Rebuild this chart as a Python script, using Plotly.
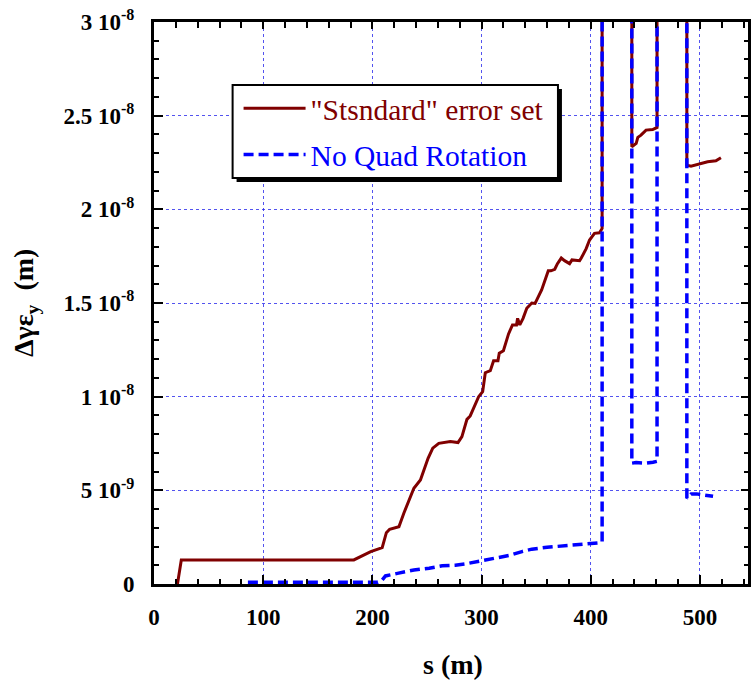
import plotly.graph_objects as go

# ---- data ----
s_std = [21.5, 25, 183, 198.5, 209, 212.8, 215.8, 221, 224.3, 228.8, 233.4, 238, 244, 247.5,
         251, 255.3, 260.8, 271.4, 278.4, 282, 286.6, 289.6, 297.3, 301, 303.4, 308, 311, 315,
         316.2, 320, 324.7, 328.3, 332, 333, 335, 338, 341.4, 346, 349, 355, 361.1, 363.5, 367,
         369.5, 373, 376, 380.6, 382.8, 389.8, 391.3, 395.8, 398.9, 403.4, 408, 410.4,
         410.4, 437.6, 437.6, 441.6, 443.1, 446, 450.6, 456.7, 460.7,
         460.7, 488, 488, 491.8, 500.9, 507, 514.6, 519.2]
v_std = [0, 1.286e-9, 1.286e-9, 1.73e-9, 1.94e-9, 2.74e-9, 2.92e-9, 3.03e-9, 3.06e-9, 3.78e-9,
         4.4e-9, 5.11e-9, 5.55e-9, 6.1e-9, 6.71e-9, 7.25e-9, 7.51e-9, 7.6e-9, 7.55e-9, 7.87e-9,
         8.79e-9, 8.97e-9, 1.0e-8, 1.027e-8, 1.128e-8, 1.139e-8, 1.192e-8, 1.192e-8, 1.232e-8,
         1.245e-8, 1.335e-8, 1.383e-8, 1.383e-8, 1.418e-8, 1.383e-8, 1.418e-8, 1.472e-8, 1.5e-8,
         1.498e-8, 1.57e-8, 1.672e-8, 1.672e-8, 1.68e-8, 1.71e-8, 1.74e-8, 1.726e-8, 1.71e-8,
         1.73e-8, 1.726e-8, 1.74e-8, 1.79e-8, 1.836e-8, 1.872e-8, 1.875e-8, 1.898e-8,
         5e-8, 5e-8, 2.334e-8, 2.352e-8, 2.384e-8, 2.396e-8, 2.423e-8, 2.426e-8, 2.437e-8,
         5e-8, 5e-8, 2.236e-8, 2.23e-8, 2.245e-8, 2.254e-8, 2.259e-8, 2.275e-8]

s_noq = [86, 205, 209, 212, 224, 238, 252, 264, 276, 285, 299, 312, 325, 337, 346, 360, 373,
         385, 400, 408, 410.4, 410.4, 437.6, 437.6, 441.5, 450, 457, 460.7, 460.7, 488, 488,
         492, 497, 506, 512]
v_noq = [1e-10, 1e-10, 2.2e-10, 4.3e-10, 5.8e-10, 7.5e-10, 8.4e-10, 9.7e-10, 1.0e-9, 1.07e-9,
         1.23e-9, 1.37e-9, 1.52e-9, 1.73e-9, 1.86e-9, 1.96e-9, 2.03e-9, 2.09e-9, 2.14e-9,
         2.2e-9, 2.26e-9, 5e-8, 5e-8, 6.45e-9, 6.48e-9, 6.45e-9, 6.5e-9, 6.55e-9, 5e-8, 5e-8,
         4.58e-9, 4.81e-9, 4.81e-9, 4.74e-9, 4.68e-9]

x_ticks = [0, 100, 200, 300, 400, 500]
x_ticktext = ["0", "100", "200", "300", "400", "500"]
y_ticks = [0, 5e-9, 1e-8, 1.5e-8, 2e-8, 2.5e-8, 3e-8]
y_ticktext = ["0", "5 10<sup>-9</sup>", "1 10<sup>-8</sup>", "1.5 10<sup>-8</sup>",
              "2 10<sup>-8</sup>", "2.5 10<sup>-8</sup>", "3 10<sup>-8</sup>"]
x_range = [0, 544]
y_range = [0, 3e-8]

name_std = '"Stsndard" error set'
name_noq = 'No Quad Rotation'
col_std = '#800000'
col_noq = '#0000ff'

W, H = 753, 681
ML, MR, MT, MB = 154, 2, 22, 97
PW, PH = W - ML - MR, H - MT - MB

def px_x(p):
    return (p - ML) / PW

def px_y(p):
    return (H - MB - p) / PH

FONT = "Liberation Serif"

fig = go.Figure()
fig.add_trace(go.Scatter(x=s_std, y=v_std, mode='lines',
                         name=f'<span style="color:{col_std}">{name_std}</span>',
                         line=dict(color=col_std, width=3), legendgroup='a'))
fig.add_trace(go.Scatter(x=s_noq, y=v_noq, mode='lines',
                         name=f'<span style="color:{col_noq}">{name_noq}</span>',
                         line=dict(color=col_noq, width=3.5, dash='10px,5px'), legendgroup='b'))
# empty trace so that the mirrored top/right axes exist
fig.add_trace(go.Scatter(x=[], y=[], xaxis='x2', yaxis='y2', showlegend=False, hoverinfo='skip'))

grid_col = 'rgba(40,40,235,0.8)'
axis_common = dict(showline=True, linecolor='black', linewidth=3, mirror=True,
                   ticks='inside', ticklen=9, tickwidth=2, tickcolor='black',
                   showgrid=True, gridcolor=grid_col, gridwidth=1, griddash='dot',
                   zeroline=False,
                   tickfont=dict(family=FONT, size=23, color='black', weight='bold'))

fig.update_layout(
    xaxis=dict(range=x_range, tickvals=x_ticks, ticktext=x_ticktext,
               minor=dict(dtick=20, tick0=0, ticks='inside', ticklen=5, tickwidth=2,
                          tickcolor='black', showgrid=False),
               ticklabelstandoff=10, **axis_common),
    yaxis=dict(range=y_range, tickvals=y_ticks, ticktext=y_ticktext,
               minor=dict(dtick=1e-9, tick0=0, ticks='inside', ticklen=5, tickwidth=2,
                          tickcolor='black', showgrid=False),
               ticklabelstandoff=12, **axis_common),
    xaxis2=dict(overlaying='x', side='top', anchor='y2', range=x_range, tickvals=x_ticks,
                showticklabels=False, ticks='inside', ticklen=7, tickwidth=2, tickcolor='black',
                minor=dict(dtick=20, tick0=0, ticks='inside', ticklen=6, tickwidth=2,
                           tickcolor='black', showgrid=False),
                showgrid=False, zeroline=False, showline=False),
    yaxis2=dict(overlaying='y', side='right', anchor='x2', range=y_range, tickvals=y_ticks,
                showticklabels=False, ticks='inside', ticklen=7, tickwidth=2, tickcolor='black',
                minor=dict(dtick=1e-9, tick0=0, ticks='inside', ticklen=4, tickwidth=2,
                           tickcolor='black', showgrid=False),
                showgrid=False, zeroline=False, showline=False),
)

# legend frame with drop shadow
lx0, ly0, lx1, ly1 = 233, 85, 560, 178
fig.add_shape(type='rect', xref='paper', yref='paper', layer='above',
              x0=px_x(lx0 + 4), x1=px_x(lx1 + 4), y0=px_y(ly1 + 4), y1=px_y(ly0 + 4),
              fillcolor='black', line=dict(width=0))
fig.add_shape(type='rect', xref='paper', yref='paper', layer='above',
              x0=px_x(lx0), x1=px_x(lx1), y0=px_y(ly1), y1=px_y(ly0),
              fillcolor='white', line=dict(color='black', width=2))

fig.update_layout(
    width=W, height=H,
    margin=dict(l=ML, r=MR, t=MT, b=MB, pad=0),
    paper_bgcolor='white', plot_bgcolor='white',
    showlegend=True,
    legend=dict(x=px_x(lx0 + 6), y=px_y(ly0 - 2.5), xanchor='left', yanchor='top',
                bgcolor='rgba(0,0,0,0)', borderwidth=0, itemwidth=62,
                traceorder='grouped', tracegroupgap=5,
                font=dict(family=FONT, size=29.5, color='black')),
    annotations=[
        dict(text='<b>Δγε<sub>y</sub>  (m)</b>', xref='paper', yref='paper', x=0, y=0.5,
             xshift=-(ML - 25), textangle=-90, showarrow=False, xanchor='center', yanchor='middle',
             font=dict(family=FONT, size=28, color='black')),
        dict(text='<b>s (m)</b>', xref='paper', yref='paper', x=px_x(455), y=0,
             yshift=-80, showarrow=False, xanchor='center', yanchor='middle',
             font=dict(family=FONT, size=28, color='black')),
    ],
)

fig.write_html("out.html")
